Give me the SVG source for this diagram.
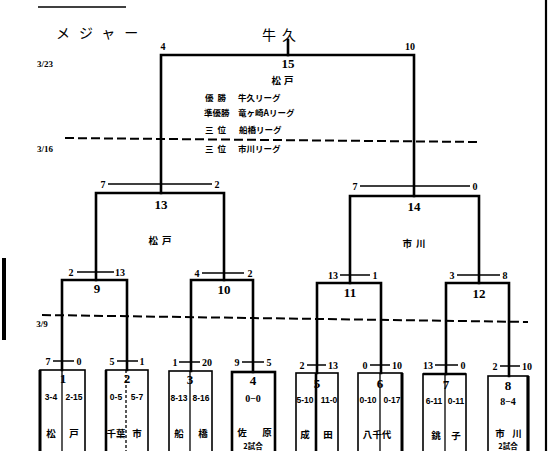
<svg xmlns="http://www.w3.org/2000/svg" width="549" height="451" viewBox="0 0 549 451">
<style>
.br{fill:none;stroke:#000;stroke-width:2.6;stroke-linecap:square}
.sc{fill:none;stroke:#000;stroke-width:1.4}
.bx{fill:none;stroke:#000;stroke-width:1.6}
.dv{fill:none;stroke:#000;stroke-width:1.3}
.ds{fill:none;stroke:#000;stroke-width:2;stroke-dasharray:9 4}
.n{font-family:"Liberation Serif",serif;font-weight:bold;font-size:13px;text-anchor:middle;fill:#000}
.s{font-family:"Liberation Serif",serif;font-weight:bold;font-size:10px;text-anchor:middle;fill:#000}
.r{font-family:"Liberation Sans",sans-serif;font-weight:bold;font-size:8.5px;text-anchor:middle;fill:#000}
.j{font-family:"Noto Sans CJK JP",sans-serif;font-weight:bold;font-size:9.5px;text-anchor:middle;fill:#000}
.jl{font-family:"Noto Sans CJK JP",sans-serif;font-weight:bold;font-size:8.5px;fill:#000}
.jt{font-family:"Noto Sans CJK JP",sans-serif;font-weight:bold;font-size:7.5px;text-anchor:middle;fill:#000}
.d{font-family:"Liberation Serif",serif;font-weight:bold;font-size:9px;text-anchor:middle;fill:#000}
.h{font-family:"Noto Sans CJK JP",sans-serif;font-size:14px;fill:#000}
</style>
<rect width="549" height="451" fill="#fff"/>
<g id="page">
<line x1="38" y1="7" x2="126" y2="7" stroke="#000" stroke-width="1.5"/>
<rect x="2" y="258" width="4" height="82" fill="#000"/>
<line x1="546" y1="0" x2="546" y2="451" stroke="#000" stroke-width="2.2"/>
<text class="h" x="56" y="38" letter-spacing="9">メジャー</text>
<text class="h" x="262" y="40" font-size="19" letter-spacing="6">牛久</text>
</g>
<g id="dates">
<text class="d" x="45" y="67">3/23</text>
<text class="d" x="45" y="152">3/16</text>
<text class="d" x="42" y="327">3/9</text>
<path class="ds" d="M65,138 L480,142"/>
<path class="ds" d="M42,315 L528,322"/>
</g>
<g id="connectors">
<path class="br" d="M288,40 V55"/>
<path class="br" d="M161,193 V55 H414 V196"/>
<path class="br" d="M96,280 V193 H224 V280"/>
<path class="br" d="M350,283 V196 H479 V283"/>
<path class="br" d="M62,370 V280 H127 V370"/>
<path class="br" d="M191,371 V280 H253 V372"/>
<path class="br" d="M317,373 V283 H381 V373"/>
<path class="br" d="M446,374 V283 H509 V376"/>
<path class="sc" d="M108,184 H212 M360,186 H470 M77,272 H114 M202,273 H244 M340,275 H370 M457,275 H500"/>
<path class="sc" d="M53,361 H74 M117,361 H138 M179,362 H200 M242,362 H264 M307,365 H326 M370,365 H390 M435,365 H458 M500,366 H520"/>
</g>
<g id="node-15">
<text class="s" x="163" y="50">4</text>
<text class="s" x="410" y="50">10</text>
<text class="n" x="288" y="68">15</text>
<text class="j" x="284" y="84" letter-spacing="3">松戸</text>
<text class="jl" x="205" y="101" letter-spacing="4">優勝</text>
<text class="jl" x="238" y="101">牛久リーグ</text>
<text class="jl" x="204" y="116">準優勝</text>
<text class="jl" x="238" y="116">竜ヶ崎Aリーグ</text>
<text class="jl" x="205" y="133" letter-spacing="4">三位</text>
<text class="jl" x="239" y="133">船橋リーグ</text>
<text class="jl" x="205" y="152" letter-spacing="4">三位</text>
<text class="jl" x="238" y="152">市川リーグ</text>
</g>
<g id="node-13">
<text class="s" x="103" y="188">7</text>
<text class="s" x="217" y="188">2</text>
<text class="n" x="161" y="209">13</text>
<text class="j" x="162" y="244" letter-spacing="4">松戸</text>
</g>
<g id="node-14">
<text class="s" x="355" y="190">7</text>
<text class="s" x="475" y="190">0</text>
<text class="n" x="414" y="211">14</text>
<text class="j" x="416" y="247" letter-spacing="4">市川</text>
</g>
<g id="node-9">
<text class="s" x="71" y="276">2</text>
<text class="s" x="120" y="276">13</text>
<text class="n" x="97" y="293">9</text>
</g>
<g id="node-10">
<text class="s" x="197" y="277">4</text>
<text class="s" x="250" y="277">2</text>
<text class="n" x="224" y="294">10</text>
</g>
<g id="node-11">
<text class="s" x="333" y="279">13</text>
<text class="s" x="375" y="279">1</text>
<text class="n" x="350" y="297">11</text>
</g>
<g id="node-12">
<text class="s" x="452" y="279">3</text>
<text class="s" x="505" y="279">8</text>
<text class="n" x="479" y="298">12</text>
</g>
<g id="box-1">
<rect class="bx" x="40" y="370" width="45" height="90"/>
<line x1="40" y1="370" x2="40" y2="451" stroke="#000" stroke-width="3"/>
<line class="dv" x1="62" y1="370" x2="62" y2="451"/>
<text class="s" x="48" y="365">7</text><text class="s" x="79" y="365">0</text>
<text class="n" x="63" y="383">1</text>
<text class="r" x="51" y="400">3-4</text><text class="r" x="74" y="400">2-15</text>
<text class="j" x="51" y="437">松</text><text class="j" x="74" y="437">戸</text>
</g>
<g id="box-2">
<rect class="bx" x="106" y="370" width="42" height="90"/>
<line x1="106" y1="370" x2="106" y2="451" stroke="#000" stroke-width="2.6"/>
<line class="dv" x1="126" y1="370" x2="126" y2="451" stroke-dasharray="3 2"/>
<text class="s" x="112" y="365">5</text><text class="s" x="142" y="365">1</text>
<text class="n" x="127" y="383">2</text>
<text class="r" x="116" y="400">0-5</text><text class="r" x="137" y="400">5-7</text>
<text class="j" x="116" y="437">千葉</text><text class="j" x="137" y="437">市</text>
</g>
<g id="box-3">
<rect class="bx" x="169" y="371" width="43" height="90"/>
<line class="dv" x1="190" y1="371" x2="190" y2="451"/>
<text class="s" x="175" y="366">1</text><text class="s" x="207" y="366">20</text>
<text class="n" x="190" y="384">3</text>
<text class="r" x="179" y="401">8-13</text><text class="r" x="201" y="401">8-16</text>
<text class="j" x="179" y="437">船</text><text class="j" x="203" y="437">橋</text>
</g>
<g id="box-4">
<rect x="232" y="372" width="43" height="90" fill="none" stroke="#000" stroke-width="2.6"/>
<text class="s" x="237" y="366">9</text><text class="s" x="269" y="366">5</text>
<text class="n" x="253" y="385">4</text>
<text class="s" x="253" y="402">0−0</text>
<text class="j" x="242" y="436">佐</text><text class="j" x="267" y="436">原</text>
<text class="jt" x="253" y="449">2試合</text>
</g>
<g id="box-5">
<rect class="bx" x="296" y="373" width="42" height="90"/>
<line x1="316" y1="373" x2="316" y2="451" stroke="#000" stroke-width="2.6"/>
<text class="s" x="302" y="369">2</text><text class="s" x="333" y="369">13</text>
<text class="n" x="317" y="388">5</text>
<text class="r" x="305" y="403">5-10</text><text class="r" x="329" y="403">11-0</text>
<text class="j" x="305" y="438">成</text><text class="j" x="328" y="438">田</text>
</g>
<g id="box-6">
<rect class="bx" x="358" y="373" width="44" height="90"/>
<line x1="402" y1="373" x2="402" y2="451" stroke="#000" stroke-width="3"/>
<line class="dv" x1="380" y1="373" x2="380" y2="451"/>
<text class="s" x="365" y="369">0</text><text class="s" x="397" y="369">10</text>
<text class="n" x="380" y="388">6</text>
<text class="r" x="368" y="403">0-10</text><text class="r" x="392" y="403">0-17</text>
<text class="j" x="377" y="438">八千代</text>
</g>
<g id="box-7">
<rect class="bx" x="423" y="374" width="43" height="90"/>
<line x1="423" y1="374" x2="466" y2="374" stroke="#000" stroke-width="2.6"/>
<line class="dv" x1="445" y1="374" x2="445" y2="451"/>
<text class="s" x="428" y="369">13</text><text class="s" x="463" y="369">0</text>
<text class="n" x="446" y="389">7</text>
<text class="r" x="434" y="404">6-11</text><text class="r" x="456" y="404">0-11</text>
<text class="j" x="436" y="439">銚</text><text class="j" x="456" y="439">子</text>
</g>
<g id="box-8">
<rect class="bx" x="488" y="376" width="40" height="90"/>
<line x1="528" y1="376" x2="528" y2="451" stroke="#000" stroke-width="3.2"/>
<text class="s" x="495" y="370">2</text><text class="s" x="527" y="370">10</text>
<text class="n" x="508" y="390">8</text>
<text class="s" x="508" y="405">8−4</text>
<text class="j" x="500" y="437">市</text><text class="j" x="517" y="437">川</text>
<text class="jt" x="508" y="449">2試合</text>
</g>
</svg>
